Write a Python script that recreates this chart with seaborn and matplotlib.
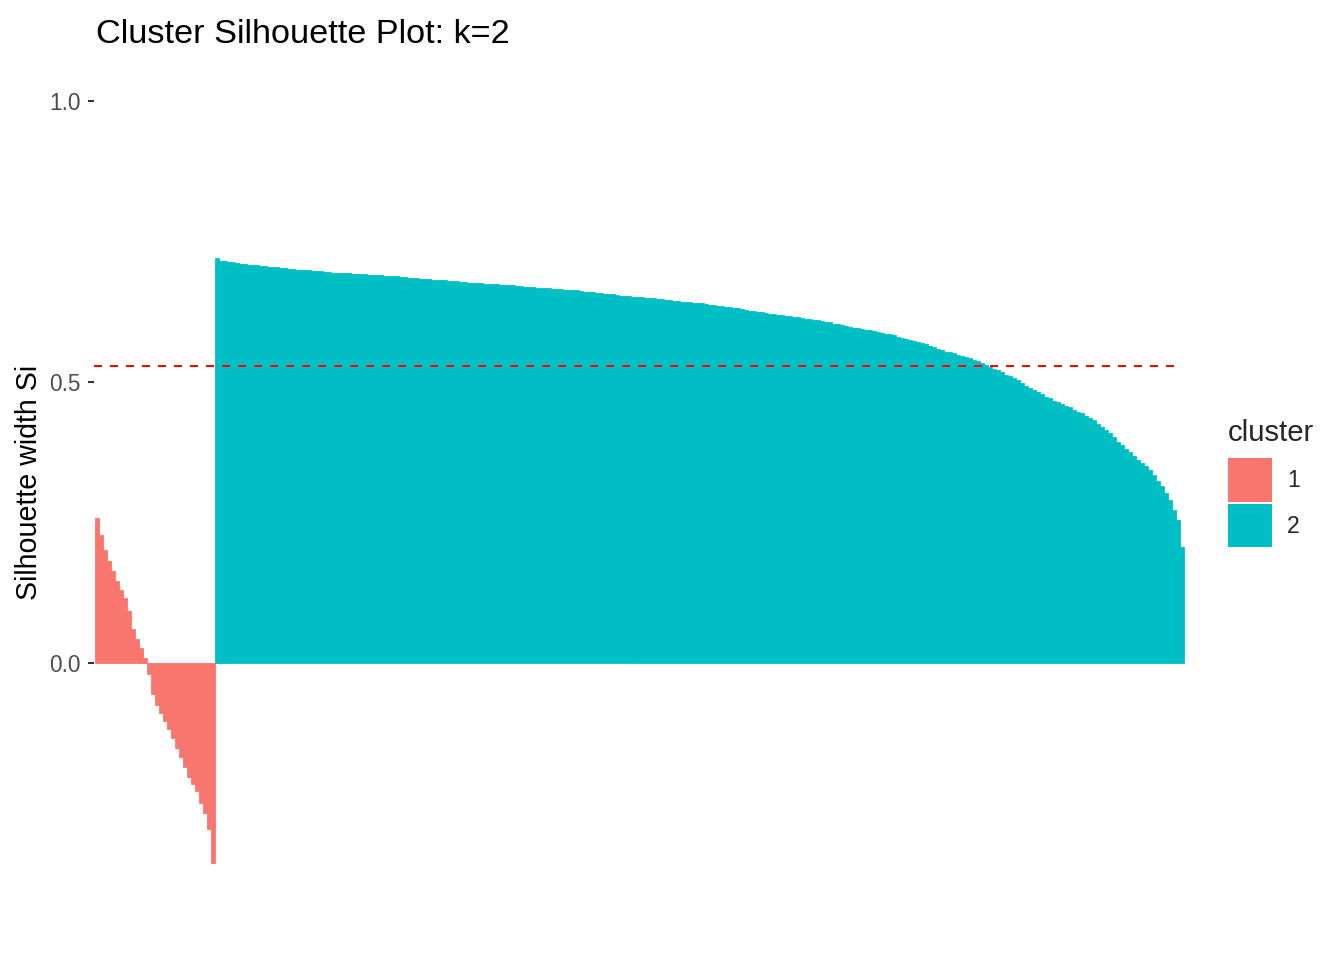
import matplotlib
matplotlib.use("Agg")
import matplotlib.pyplot as plt
from matplotlib.patches import Patch
import seaborn as sns
import pandas as pd

# ---- data ----
cluster_labels = ["1", "2"]
cluster_colors = ["#F8766D", "#00BFC4"]

cluster1_sil = [0.258, 0.228, 0.201, 0.182, 0.163, 0.146, 0.130, 0.116, 0.092, 0.060,
                0.042, 0.026, 0.008, -0.020, -0.055, -0.075, -0.090, -0.104, -0.118, -0.134,
                -0.152, -0.168, -0.186, -0.203, -0.215, -0.229, -0.250, -0.268, -0.295, -0.356]

cluster2_sil = [0.721, 0.716, 0.715, 0.713, 0.713, 0.712, 0.711, 0.710, 0.709, 0.708,
                0.708, 0.707, 0.706, 0.705, 0.705, 0.704, 0.703, 0.703, 0.702, 0.701,
                0.700, 0.700, 0.699, 0.699, 0.698, 0.697, 0.697, 0.696, 0.696, 0.695,
                0.695, 0.695, 0.694, 0.694, 0.693, 0.693, 0.692, 0.692, 0.691, 0.691,
                0.690, 0.690, 0.689, 0.689, 0.688, 0.688, 0.687, 0.687, 0.686, 0.685,
                0.685, 0.684, 0.684, 0.683, 0.682, 0.682, 0.681, 0.681, 0.680, 0.680,
                0.679, 0.678, 0.678, 0.677, 0.677, 0.676, 0.676, 0.675, 0.675, 0.674,
                0.674, 0.673, 0.672, 0.672, 0.672, 0.671, 0.671, 0.670, 0.669, 0.669,
                0.668, 0.668, 0.667, 0.667, 0.666, 0.666, 0.665, 0.664, 0.664, 0.663,
                0.663, 0.662, 0.661, 0.661, 0.660, 0.659, 0.658, 0.657, 0.657, 0.656,
                0.655, 0.654, 0.654, 0.653, 0.652, 0.652, 0.651, 0.650, 0.650, 0.649,
                0.648, 0.647, 0.646, 0.646, 0.645, 0.644, 0.643, 0.643, 0.642, 0.641,
                0.641, 0.640, 0.639, 0.638, 0.637, 0.636, 0.635, 0.634, 0.634, 0.632,
                0.631, 0.630, 0.629, 0.627, 0.626, 0.625, 0.624, 0.623, 0.622, 0.621,
                0.620, 0.619, 0.618, 0.617, 0.616, 0.615, 0.614, 0.613, 0.612, 0.611,
                0.610, 0.608, 0.607, 0.606, 0.604, 0.603, 0.601, 0.600, 0.598, 0.597,
                0.596, 0.595, 0.593, 0.592, 0.590, 0.589, 0.588, 0.586, 0.585, 0.583,
                0.581, 0.578, 0.577, 0.575, 0.573, 0.571, 0.569, 0.567, 0.565, 0.562,
                0.559, 0.557, 0.554, 0.553, 0.551, 0.549, 0.546, 0.544, 0.542, 0.539,
                0.537, 0.533, 0.530, 0.527, 0.524, 0.522, 0.517, 0.513, 0.510, 0.507,
                0.503, 0.498, 0.493, 0.489, 0.486, 0.482, 0.478, 0.474, 0.471, 0.467,
                0.464, 0.460, 0.458, 0.455, 0.450, 0.446, 0.444, 0.440, 0.436, 0.432,
                0.426, 0.420, 0.414, 0.409, 0.402, 0.394, 0.388, 0.381, 0.375, 0.368,
                0.361, 0.356, 0.350, 0.343, 0.335, 0.324, 0.314, 0.303, 0.290, 0.273,
                0.255, 0.207]

average_width = 0.529
y_ticks = [0.0, 0.5, 1.0]
y_tick_labels = ["0.0", "0.5", "1.0"]
title_text = "Cluster Silhouette Plot: k=2"
y_label = "Silhouette width Si"
legend_title = "cluster"

# ---- build table ----
sil = cluster1_sil + cluster2_sil
clus = [cluster_labels[0]] * len(cluster1_sil) + [cluster_labels[1]] * len(cluster2_sil)
df = pd.DataFrame({"obs": list(range(len(sil))), "sil": sil, "cluster": clus})

sns.set_style("white")
plt.rcParams["font.family"] = ["Liberation Sans", "DejaVu Sans"]

W, H = 1344, 960
fig = plt.figure(figsize=(W / 144, H / 144), dpi=144)
ax = fig.add_axes([94 / W, 1 - 901 / H, (1185 - 94) / W, (901 - 63) / H])

palette = dict(zip(cluster_labels, cluster_colors))
sns.barplot(data=df, x="obs", y="sil", hue="cluster", palette=palette, saturation=1,
            dodge=False, width=1.0, errorbar=None, linewidth=0, ax=ax, legend=False)
for p in ax.patches:
    p.set_edgecolor(p.get_facecolor())
    p.set_linewidth(0.4)

ax.axhline(average_width, xmin=0.0, xmax=(1176 - 94) / (1185 - 94),
           color="red", linestyle=(0, (4, 4)), linewidth=1.0)

n = len(sil)
ax.set_xlim(-0.7, n - 0.3)
ax.set_ylim(-0.424, 1.068)
ax.set_xticks([])
ax.set_xlabel("")
ax.set_yticks(y_ticks)
ax.set_yticklabels(y_tick_labels)
ax.tick_params(axis="y", left=True, length=3.2, width=1.0, color="#333333",
               labelcolor="#4D4D4D", labelsize=11.3, pad=3.5)
for s in ax.spines.values():
    s.set_visible(False)
ax.set_ylabel(y_label, fontsize=14.3, color="black")
ax.yaxis.set_label_coords(-0.047, 0.5)

fig.text(96 / W, 1 - 43 / H, title_text, fontsize=17.1, color="black",
         ha="left", va="baseline")

handles = [Patch(facecolor=c, edgecolor="none") for c in cluster_colors]
leg = fig.legend(handles, cluster_labels, title=legend_title, loc="upper left",
                 bbox_to_anchor=(1228 / W, 1 - 419 / H), frameon=False,
                 fontsize=11.5, title_fontsize=14.6, handlelength=1.91, handleheight=2.55,
                 labelspacing=0.086, handletextpad=0.65, borderpad=0, borderaxespad=0,
                 alignment="left")
leg._legend_box.sep = 5.5

fig.savefig("out.png", dpi=144)
